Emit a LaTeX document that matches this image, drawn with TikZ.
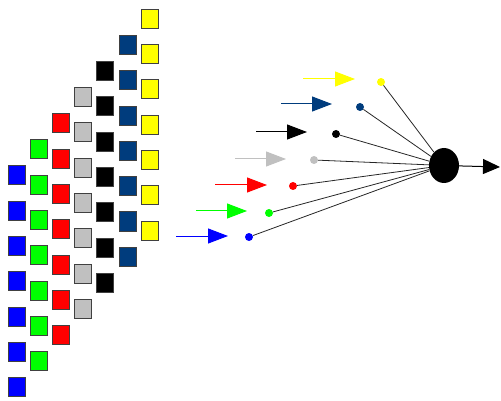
\documentclass[tikz,border=0pt]{standalone}
\usetikzlibrary{arrows.meta,shapes.geometric}
\definecolor{navy}{RGB}{0,60,125}
\definecolor{lgray}{RGB}{192,192,192}
\definecolor{vgreen}{RGB}{0,255,0}
\definecolor{vblue}{RGB}{0,0,255}
\definecolor{vyellow}{RGB}{255,255,0}
\begin{document}
\begin{tikzpicture}[x=1pt,y=-1pt,
  sq/.style={draw=black!75, line width=1pt, minimum width=17pt, minimum height=19pt, inner sep=0pt},
  inarrow/.style={line width=1pt, -{Triangle[length=20pt,width=15pt]}},
  dot/.style={circle, inner sep=0pt, minimum size=8pt},
  spoke/.style={line width=0.8pt, black!85}]
\useasboundingbox (0,0) rectangle (501,401);
\foreach \c [count=\i from 0] in {vblue,vgreen,red,lgray,black,navy,vyellow}{
  \foreach \r in {0,...,6}{
    \node[sq, fill=\c] (s-\i-\r) at ({16.5+22.2*\i},{175.5-26.1*\i+35.3*\r}) {};
  }
}
\node[ellipse, fill=black, minimum width=30pt, minimum height=35pt, inner sep=0pt] (hub) at (444,165.5) {};
\foreach \c/\xa/\xb/\yy/\dx/\dy [count=\k] in {
  vyellow/303/355/79/381/82,
  navy/281/332/104/360/107,
  black/256/307/132/336/134,
  lgray/235/286/159/314/160,
  red/215/267/185/293/186,
  vgreen/196/247/211/269/213,
  vblue/176/228/236/249/237}{
  \coordinate (a\k) at (\xa,\yy);
  \coordinate (b\k) at (\xb,\yy);
  \draw[inarrow, \c] (a\k) -- (b\k);
  \node[dot, fill=\c] (d\k) at (\dx,\dy) {};
  \draw[spoke] (d\k) -- (hub);
}
\coordinate (out) at (500,167);
\draw[line width=1pt, -{Triangle[length=17pt,width=15pt]}] (hub) -- (out);
\end{tikzpicture}
\end{document}
